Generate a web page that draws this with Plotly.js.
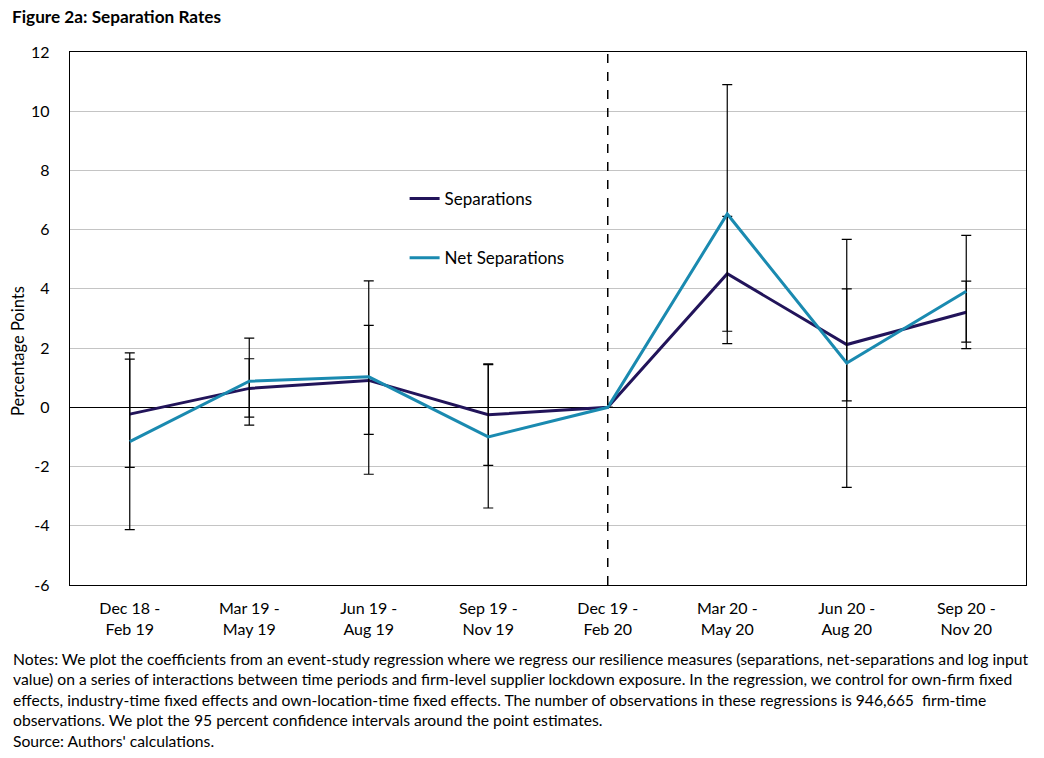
<!DOCTYPE html>
<html>
<head>
<meta charset="utf-8">
<script src="https://cdn.plot.ly/plotly-3.0.1.min.js"></script>
<style>
  body { margin: 0; background: #fff; }
  #chart { width: 1044px; height: 758px; }
</style>
</head>
<body>
<div id="chart"></div>
<script>
// Chart data
var periods = ["Dec 18 -<br>Feb 19", "Mar 19 -<br>May 19", "Jun 19 -<br>Aug 19", "Sep 19 -<br>Nov 19",
               "Dec 19 -<br>Feb 20", "Mar 20 -<br>May 20", "Jun 20 -<br>Aug 20", "Sep 20 -<br>Nov 20"];

var sep_values = [-0.23, 0.64, 0.91, -0.25, 0, 4.51, 2.12, 3.21];
var sep_lower  = [-2.03, -0.33, -0.91, -1.96, null, 2.57, 0.22, 2.20];
var sep_upper  = [1.63, 1.64, 2.77, 1.44, null, 6.45, 4.00, 4.26];

var net_values = [-1.16, 0.88, 1.03, -1.00, 0, 6.53, 1.50, 3.92];
var net_lower  = [-4.13, -0.60, -2.26, -3.40, null, 2.15, -2.70, 1.98];
var net_upper  = [1.84, 2.34, 4.27, 1.47, null, 10.90, 5.67, 5.81];

var y_ticks = [-6, -4, -2, 0, 2, 4, 6, 8, 10, 12];
var y_labels = ["-6", "-4", "-2", "0", "2", "4", "6", "8", "10", "12"];

var eventPeriod = 4;   // Dec 19 - Feb 20 reference period

var notes = "Notes: We plot the coefficients from an event-study regression where we regress our resilience measures (separations, net-separations and log input<br>" +
  "value) on a series of interactions between time periods and firm-level supplier lockdown exposure. In the regression, we control for own-firm fixed<br>" +
  "effects, industry-time fixed effects and own-location-time fixed effects. The number of observations in these regressions is 946,665  firm-time<br>" +
  "observations. We plot the 95 percent confidence intervals around the point estimates.<br>" +
  "Source: Authors' calculations.";

// Turn CI bounds into error bar lengths
function errUp(vals, upper){
  return vals.map(function(v, i){ return upper[i] == null ? null : upper[i] - v; });
}
function errDown(vals, lower){
  return vals.map(function(v, i){ return lower[i] == null ? null : v - lower[i]; });
}

var idx = periods.map(function(p, i){ return i; });

var data = [
  {
    name: "Separations",
    type: "scatter",
    mode: "lines",
    x: idx,
    y: sep_values,
    line: { color: "#22145a", width: 3 },
    error_y: { type: "data", symmetric: false, array: errUp(sep_values, sep_upper),
               arrayminus: errDown(sep_values, sep_lower), color: "#000", thickness: 1.2, width: 5 },
    legendgroup: "a"
  },
  {
    name: "Net Separations",
    type: "scatter",
    mode: "lines",
    x: idx,
    y: net_values,
    line: { color: "#1a8ab0", width: 3 },
    error_y: { type: "data", symmetric: false, array: errUp(net_values, net_upper),
               arrayminus: errDown(net_values, net_lower), color: "#000", thickness: 1.2, width: 5 },
    legendgroup: "b"
  }
];

var layout = {
  width: 1044,
  height: 758,
  font: { family: "Lato, 'Open Sans', sans-serif", size: 16, color: "#000" },
  paper_bgcolor: "#fff",
  plot_bgcolor: "#fff",
  margin: { l: 70, r: 18, t: 52, b: 173 },
  title: { text: "<b>Figure 2a: Separation Rates</b>", font: { size: 17.2 }, x: 12 / 1044, xanchor: "left",
           y: 1 - 17 / 758, yanchor: "middle", yref: "container" },
  showlegend: true,
  legend: { x: 0.35, y: 0.758, xanchor: "left", yanchor: "top", bgcolor: "rgba(0,0,0,0)",
            traceorder: "grouped", tracegroupgap: 34, font: { size: 17 } },
  xaxis: {
    range: [-0.5, 7.5],
    tickmode: "array",
    tickvals: idx,
    ticktext: periods,
    showgrid: false,
    zeroline: false,
    showline: true, mirror: true, linecolor: "#000", linewidth: 1.2,
    ticks: "", ticklabelstandoff: 9
  },
  yaxis: {
    range: [-6, 12],
    tickmode: "array",
    tickvals: y_ticks,
    ticktext: y_labels,
    showgrid: true, gridcolor: "#c4c4c4", gridwidth: 1,
    zeroline: true, zerolinecolor: "#000", zerolinewidth: 1.2,
    showline: true, mirror: true, linecolor: "#000", linewidth: 1.2,
    ticks: "", ticklabelstandoff: 16
  },
  shapes: [
    { type: "line", xref: "x", yref: "paper", x0: eventPeriod, x1: eventPeriod, y0: 0, y1: 1,
      line: { color: "#000", width: 1.5, dash: "dash" } }
  ],
  annotations: [
    { text: "Percentage Points", xref: "paper", yref: "paper", x: -52 / 956, y: (585 - 351) / 533,
      xanchor: "center", yanchor: "middle", textangle: -90, showarrow: false, font: { size: 16.5 } },
    { text: notes, xref: "paper", yref: "paper", x: -59 / 956, y: -63 / 533, xanchor: "left", yanchor: "top",
      align: "left", showarrow: false, font: { size: 15.7 } }
  ]
};

Plotly.newPlot("chart", data, layout, { displayModeBar: false, staticPlot: true });
</script>
</body>
</html>
